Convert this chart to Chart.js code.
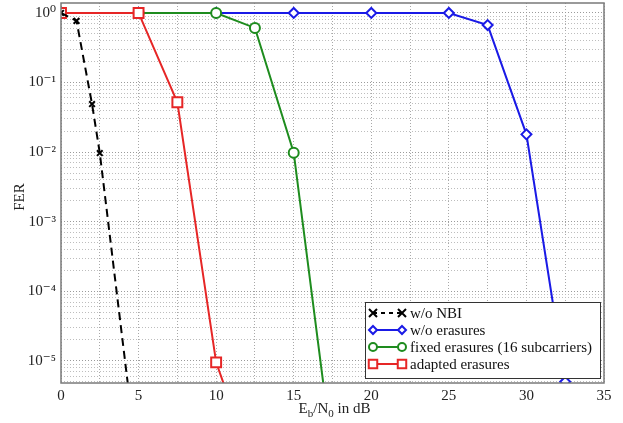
<!DOCTYPE html>
<html>
<head>
<meta charset="utf-8">
<script src="https://cdn.jsdelivr.net/npm/chart.js@4.4.1/dist/chart.umd.min.js"></script>
<style>
html, body { margin: 0; padding: 0; background: #fff; }
#wrap { width: 623px; height: 423px; }
</style>
</head>
<body>
<div id="wrap"><canvas id="ferChart" width="623" height="423"></canvas></div>
<script>
// valeurs FER
const nbiX = [0, 1, 2, 2.5, 5];
const nbiFer = [1, 0.77, 0.049, 0.0097, 2.5e-7];
const noErasX = [0, 5, 10, 15, 20, 25, 27.5, 30, 32.5];
const noErasFer = [1, 1, 1, 1, 1, 1, 0.67, 0.018, 5e-6];
const fixedX = [0, 5, 10, 12.5, 15, 17.5];
const fixedFer = [1, 1, 1, 0.61, 0.0098, 4.4e-7];
const adaptX = [0, 5, 7.5, 10, 12.5];
const adaptFer = [1, 1, 0.052, 9.5e-6, 2.5e-7];
const seriesNames = ['w/o NBI', 'w/o erasures', 'fixed erasures (16 subcarriers)', 'adapted erasures'];
const xTickLabels = [0, 5, 10, 15, 20, 25, 30, 35];
const yExponents = [0, -1, -2, -3, -4, -5];

const serif = "'Liberation Serif', 'DejaVu Serif', serif";
const supMap = {'0':'⁰','1':'¹','2':'²','3':'³','4':'⁴','5':'⁵','6':'⁶','7':'⁷','8':'⁸','9':'⁹','-':'⁻'};

function toPoints(xs, ys) {
    return xs.map((x, i) => ({x: x, y: ys[i]}));
}

const styles = [
    {color: '#000000', point: 'crossRot', radius: 4, dash: [8, 5]},
    {color: '#1a1ae6', point: 'rectRot', radius: 5, dash: []},
    {color: '#1e8c1e', point: 'circle', radius: 5, dash: []},
    {color: '#e62626', point: 'rect', radius: 7, dash: []}
];
const seriesData = [
    toPoints(nbiX, nbiFer),
    toPoints(noErasX, noErasFer),
    toPoints(fixedX, fixedFer),
    toPoints(adaptX, adaptFer)
];
const drawOrder = [0, 3, 2, 1];

// petit dessin des marqueurs pour la légende
function drawMarker(ctx, style, x, y) {
    ctx.save();
    ctx.strokeStyle = style.color;
    ctx.fillStyle = '#fff';
    ctx.lineWidth = 2;
    ctx.setLineDash([]);
    ctx.beginPath();
    const r = style.radius;
    if (style.point === 'crossRot') {
        ctx.moveTo(x - r, y - r); ctx.lineTo(x + r, y + r);
        ctx.moveTo(x - r, y + r); ctx.lineTo(x + r, y - r);
        ctx.stroke();
    } else if (style.point === 'rectRot') {
        ctx.moveTo(x, y - r); ctx.lineTo(x + r, y); ctx.lineTo(x, y + r); ctx.lineTo(x - r, y);
        ctx.closePath(); ctx.fill(); ctx.stroke();
    } else if (style.point === 'circle') {
        ctx.arc(x, y, r, 0, Math.PI * 2);
        ctx.fill(); ctx.stroke();
    } else {
        const s = r * Math.SQRT1_2;
        ctx.rect(x - s, y - s, 2 * s, 2 * s);
        ctx.fill(); ctx.stroke();
    }
    ctx.restore();
}

const framePlugin = {
    id: 'frame',
    afterDraw(chart) {
        const ctx = chart.ctx;
        const a = chart.chartArea;
        ctx.save();
        ctx.strokeStyle = '#7a7a7a';
        ctx.lineWidth = 1.5;
        ctx.strokeRect(a.left, a.top, a.right - a.left, a.bottom - a.top);

        // légende
        const bw = 235, bh = 76;
        const bx = a.right - 4 - bw, by = a.bottom - 5 - bh;
        ctx.fillStyle = '#fff';
        ctx.fillRect(bx, by, bw, bh);
        ctx.strokeStyle = '#333';
        ctx.lineWidth = 1;
        ctx.strokeRect(bx + 0.5, by + 0.5, bw, bh);
        ctx.font = '15px ' + serif;
        ctx.textBaseline = 'middle';
        seriesNames.forEach((name, i) => {
            const st = styles[i];
            const yy = by + 11 + i * 17;
            const x0 = bx + 8, x1 = bx + 37;
            ctx.save();
            ctx.strokeStyle = st.color;
            ctx.lineWidth = 2;
            ctx.setLineDash(st.dash.length ? [4, 4] : []);
            ctx.beginPath(); ctx.moveTo(x0, yy); ctx.lineTo(x1, yy); ctx.stroke();
            ctx.restore();
            drawMarker(ctx, {color: st.color, point: st.point, radius: st.point === 'rect' ? 6 : 4}, x0, yy);
            drawMarker(ctx, {color: st.color, point: st.point, radius: st.point === 'rect' ? 6 : 4}, x1, yy);
            ctx.fillStyle = '#111';
            ctx.fillText(name, bx + 45, yy + 1);
        });

        // titre de l'axe x avec indices
        const cx = (a.left + a.right) / 2 + 2;
        const base = 413;
        const parts = [
            {t: 'E', f: 15, dy: 0}, {t: 'b', f: 11, dy: 4}, {t: '/N', f: 15, dy: 0},
            {t: '0', f: 11, dy: 4}, {t: ' in dB', f: 15, dy: 0}
        ];
        let total = 0;
        parts.forEach(p => { ctx.font = p.f + 'px ' + serif; total += ctx.measureText(p.t).width; });
        let xx = cx - total / 2;
        ctx.fillStyle = '#222';
        ctx.textBaseline = 'alphabetic';
        parts.forEach(p => {
            ctx.font = p.f + 'px ' + serif;
            ctx.fillText(p.t, xx, base + p.dy);
            xx += ctx.measureText(p.t).width;
        });

        // titre de l'axe y
        ctx.save();
        ctx.translate(20, 197);
        ctx.rotate(-Math.PI / 2);
        ctx.font = '15px ' + serif;
        ctx.textAlign = 'center';
        ctx.textBaseline = 'middle';
        ctx.fillText('FER', 0, 0);
        ctx.restore();
        ctx.restore();
    }
};

function isDecade(v) {
    const e = Math.log10(v);
    return Math.abs(e - Math.round(e)) < 1e-9;
}

var ctx = document.getElementById('ferChart').getContext('2d');
var ferChart = new Chart(ctx, {
    type: 'line',
    data: {
        datasets: seriesNames.map((name, i) => ({
            label: name,
            data: seriesData[i],
            borderColor: styles[i].color,
            borderWidth: 2,
            borderDash: styles[i].dash,
            pointStyle: styles[i].point,
            pointRadius: styles[i].radius,
            pointBorderWidth: 2,
            pointBorderColor: styles[i].color,
            pointBackgroundColor: '#fff',
            fill: false,
            tension: 0,
            order: drawOrder[i]
        }))
    },
    options: {
        responsive: false,
        animation: false,
        layout: { autoPadding: false, padding: { top: 3, right: 19, left: 0, bottom: 0 } },
        plugins: { legend: { display: false }, tooltip: { enabled: false } },
        scales: {
            x: {
                type: 'linear',
                min: 0,
                max: 35,
                afterFit: function (scale) {
                    scale.height = 40;
                    scale.paddingLeft = 0;
                    scale.paddingRight = 0;
                },
                ticks: {
                    stepSize: 2.5,
                    autoSkip: false,
                    maxRotation: 0,
                    padding: 4,
                    color: '#222',
                    font: { family: serif, size: 15 },
                    callback: function (v) { return xTickLabels.includes(v) ? String(v) : ''; }
                },
                grid: { color: '#a8a8a8', lineWidth: 1, drawTicks: false },
                border: { display: false, dash: [1, 2] }
            },
            y: {
                type: 'logarithmic',
                min: 4.8e-6,
                max: 1.39,
                afterFit: function (scale) {
                    scale.width = 61;
                    scale.paddingTop = 0;
                    scale.paddingBottom = 0;
                },
                afterBuildTicks: function (scale) {
                    const t = [];
                    for (let e = -6; e <= 0; e++) {
                        for (let m = 1; m <= 9; m++) {
                            const v = parseFloat((m * Math.pow(10, e)).toPrecision(6));
                            if (v >= scale.min && v <= scale.max) t.push({ value: v });
                        }
                    }
                    scale.ticks = t;
                },
                ticks: {
                    autoSkip: false,
                    padding: 5,
                    color: '#222',
                    font: { family: serif, size: 15 },
                    callback: function (v) {
                        if (!isDecade(v)) return '';
                        const e = Math.round(Math.log10(v));
                        if (!yExponents.includes(e)) return '';
                        return '10' + String(e).split('').map(c => supMap[c]).join('');
                    }
                },
                grid: {
                    color: function (c) { return c.tick && isDecade(c.tick.value) ? '#9a9a9a' : '#bdbdbd'; },
                    lineWidth: 1,
                    drawTicks: false
                },
                border: { display: false, dash: [1, 2] }
            }
        }
    },
    plugins: [framePlugin]
});
</script>
</body>
</html>
